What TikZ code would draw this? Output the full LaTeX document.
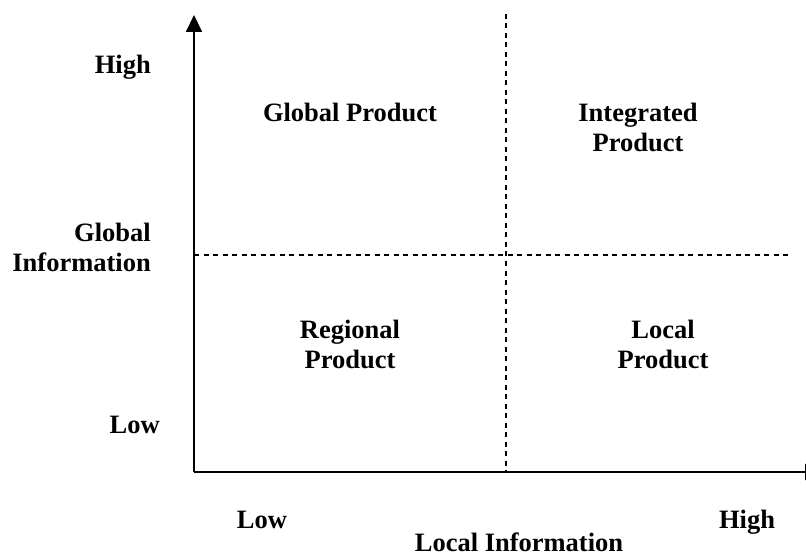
\documentclass[tikz,border=0pt]{standalone}
\usepackage{fontspec}
\setmainfont{Liberation Serif}
\usetikzlibrary{arrows.meta,positioning}

\tikzset{
  lbl/.style={font=\fontsize{26.5}{30}\selectfont\bfseries, inner sep=0pt},
  axis/.style={line width=2pt, -{Triangle[length=17pt,width=16pt]}},
  split/.style={line width=1.2pt, dash pattern=on 5pt off 4.5pt}
}

\begin{document}
\begin{tikzpicture}[x=1pt,y=-1pt]
          \clip (0,0) rectangle (806,556);
          \useasboundingbox (0,0) rectangle (806,556);

          % Axes
          \coordinate (o) at (194,472);
          \coordinate (ytip) at (194,15);
          \coordinate (xtip) at (822,472);
          \draw[axis] (o) -- (ytip);
          \draw[axis] (o) -- (xtip);

          % Quadrant borders
          \coordinate (vtop) at (506,14);
          \coordinate (vbot) at (506,472);
          \coordinate (hleft) at (194,255);
          \coordinate (hright) at (789,255);
          \draw[split] (vtop) -- (vbot);
          \draw[split] (hleft) -- (hright);

          % Y axis labels
          \node[lbl,anchor=base east] (yhigh) at (151,74) {High};
          \node[lbl,anchor=base east,align=right] (ytitle) at (151,272) {Global\\Information};
          \node[lbl,anchor=base east] (ylow) at (160,433) {Low};

          % X axis labels
          \node[lbl,anchor=base] (xlow) at (262,528) {Low};
          \node[lbl,anchor=base] (xhigh) at (747,528) {High};
          \node[lbl,anchor=base] (xtitle) at (519,551) {Local Information};

          % Quadrants
          \node[lbl,anchor=base] (global) at (350,122) {Global Product};
          \node[lbl,anchor=base,align=center] (integrated) at (638,152) {Integrated\\Product};
          \node[lbl,anchor=base,align=center] (regional) at (350,368) {Regional\\Product};
          \node[lbl,anchor=base,align=center] (local) at (663,368) {Local\\Product};

\end{tikzpicture}
\end{document}
